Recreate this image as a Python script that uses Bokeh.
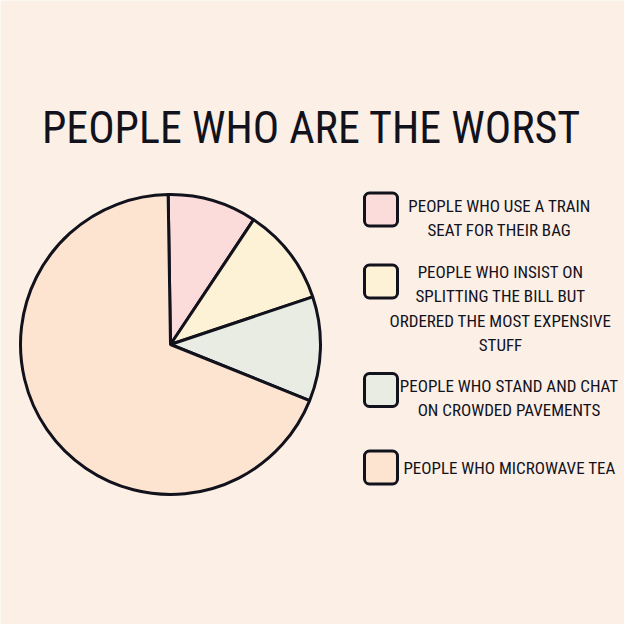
from bokeh.plotting import figure
from bokeh.models import Range1d
from bokeh.embed import file_html
from bokeh.resources import INLINE
from bokeh.core.properties import value
import numpy as np

# ---- data ----
title_text = "PEOPLE WHO ARE THE WORST"
categories = [
    ["PEOPLE WHO USE A TRAIN", "SEAT FOR THEIR BAG"],
    ["PEOPLE WHO INSIST ON", "SPLITTING THE BILL BUT", "ORDERED THE MOST EXPENSIVE", "STUFF"],
    ["PEOPLE WHO STAND AND CHAT", "ON CROWDED PAVEMENTS"],
    ["PEOPLE WHO MICROWAVE TEA"],
]
shares = [9.6, 10.5, 11.25, 68.65]  # percent
colors = ["#fbdcdb", "#fdf2d6", "#e8ece3", "#fde4d1"]

# ---- style / layout ----
BG = "#fcefe6"
INK = "#12121c"
FONT = "Roboto Condensed, DejaVu Sans Condensed, Liberation Sans Narrow, Roboto, sans-serif"
start_deg = 90.9
cx, cy, r = 170, 344, 150

p = figure(width=624, height=624, x_range=Range1d(0, 624), y_range=Range1d(624, 0),
           output_backend="svg", toolbar_location=None, min_border=0,
           x_axis_location=None, y_axis_location=None,
           background_fill_color=BG, border_fill_color=BG, outline_line_color=None)
p.grid.visible = False

cum = np.cumsum([0] + shares)
starts = [np.deg2rad(start_deg - 3.6 * cum[i]) for i in range(len(shares))]
ends = [np.deg2rad(start_deg - 3.6 * cum[i + 1]) for i in range(len(shares))]

p.wedge(x=[cx] * len(shares), y=[cy] * len(shares), radius=r,
        start_angle=starts, end_angle=ends, direction="clock",
        fill_color=colors, line_color=INK, line_width=3)

# title
p.text(x=[311], y=[127], text=[title_text], text_font=value(FONT),
       text_font_size="44px", text_align="center", text_baseline="middle",
       text_color=INK)

# legend
box_centers = [209, 281, 389.5, 467]
first_line_y = [205, 271, 385, 467]
text_cx = [499, 500, 508.5, 509]
line_gap = 24.5
half = 16.5
p.quad(left=[364] * 4, right=[397] * 4,
       top=[c - half for c in box_centers], bottom=[c + half for c in box_centers],
       fill_color=colors, line_color=INK, line_width=3, border_radius=5)

xs, ys, ts = [], [], []
for i, lines in enumerate(categories):
    for j, t in enumerate(lines):
        xs.append(text_cx[i])
        ys.append(first_line_y[i] + j * line_gap)
        ts.append(t)
p.text(x=xs, y=ys, text=ts, text_font=value(FONT), text_font_size="17px",
       text_align="center", text_baseline="middle", text_color=INK)

html = file_html(p, INLINE)
html = html.replace("<body>", '<body style="background-color:%s;">' % BG, 1)
open("out.html", "w").write(html)
